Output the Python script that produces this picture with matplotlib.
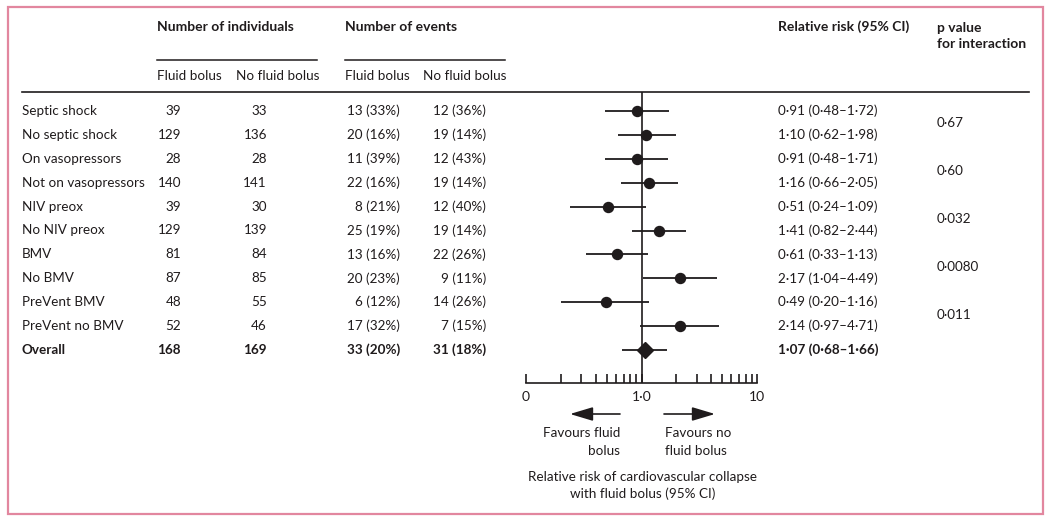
import matplotlib
matplotlib.use("Agg")
import matplotlib.pyplot as plt
from matplotlib.patches import Rectangle, FancyArrowPatch
from matplotlib.lines import Line2D
from matplotlib.ticker import FixedLocator, FixedFormatter, NullFormatter

# ---------------- data ----------------
subgroups = ["Septic shock", "No septic shock", "On vasopressors", "Not on vasopressors",
             "NIV preox", "No NIV preox", "BMV", "No BMV", "PreVent BMV", "PreVent no BMV",
             "Overall"]
n_fluid = [39, 129, 28, 140, 39, 129, 81, 87, 48, 52, 168]
n_nofluid = [33, 136, 28, 141, 30, 139, 84, 85, 55, 46, 169]
ev_fluid = [13, 20, 11, 22, 8, 25, 13, 20, 6, 17, 33]
pct_fluid = [33, 16, 39, 16, 21, 19, 16, 23, 12, 32, 20]
ev_nofluid = [12, 19, 12, 19, 12, 19, 22, 9, 14, 7, 31]
pct_nofluid = [36, 14, 43, 14, 40, 14, 26, 11, 26, 15, 18]
rr = [0.91, 1.10, 0.91, 1.16, 0.51, 1.41, 0.61, 2.17, 0.49, 2.14, 1.07]
ci_lo = [0.48, 0.62, 0.48, 0.66, 0.24, 0.82, 0.33, 1.04, 0.20, 0.97, 0.68]
ci_hi = [1.72, 1.98, 1.71, 2.05, 1.09, 2.44, 1.13, 4.49, 1.16, 4.71, 1.66]
p_interaction = ["0·67", "0·60", "0·032", "0·0080", "0·011"]
axis_ticks = [0.1, 1.0, 10.0]
axis_ticklabels = ["0", "1·0", "10"]

# ---------------- layout ----------------
W, H = 1050, 520
FONT = ["Lato", "DejaVu Sans"]
FS = 9.7
TXT = "#1f1b1c"
plt.rcParams["font.family"] = FONT

fig = plt.figure(figsize=(W / 100, H / 100), dpi=100)
fig.patch.set_facecolor("white")


def fx(x):
    return x / W


def fy(y):
    return 1 - y / H


def text(x, y, s, **kw):
    kw.setdefault("fontsize", FS)
    kw.setdefault("color", TXT)
    kw.setdefault("va", "center")
    fig.text(fx(x), fy(y), s, **kw)


def hline(x0, x1, y, lw=1.1, color=TXT):
    fig.add_artist(Line2D([fx(x0), fx(x1)], [fy(y), fy(y)], lw=lw, color=color,
                          transform=fig.transFigure))


def dot(v):
    return f"{v:.2f}".replace(".", "·")


# border
fig.add_artist(Rectangle((fx(8), fy(514)), fx(1043) - fx(8), fy(7) - fy(514),
                         transform=fig.transFigure, fill=False, lw=1.6,
                         edgecolor="#e2879f"))

# headers
text(157, 27, "Number of individuals", fontweight="bold", fontsize=FS + 0.3)
text(345, 27, "Number of events", fontweight="bold", fontsize=FS + 0.3)
hline(157, 317, 60)
hline(345, 505, 60)
text(157, 76, "Fluid bolus")
text(236, 76, "No fluid bolus")
text(345, 76, "Fluid bolus")
text(423, 76, "No fluid bolus")
text(778, 27, "Relative risk (95% CI)", fontweight="bold", fontsize=FS + 0.3)
text(937, 28, "p value", fontweight="bold", fontsize=FS + 0.3)
text(937, 44, "for interaction", fontweight="bold", fontsize=FS + 0.3)
hline(22, 1029, 92, lw=1.2)

row0, dy = 111, 23.9
nrows = len(subgroups)
for i in range(nrows):
    y = row0 + dy * i
    fw = "bold" if i == nrows - 1 else "normal"
    text(22, y, subgroups[i], fontweight=fw)
    text(181, y, str(n_fluid[i]), ha="right", fontweight=fw)
    text(267, y, str(n_nofluid[i]), ha="right", fontweight=fw)
    text(400, y, f"{ev_fluid[i]} ({pct_fluid[i]}%)", ha="right", fontweight=fw)
    text(486, y, f"{ev_nofluid[i]} ({pct_nofluid[i]}%)", ha="right", fontweight=fw)
    text(778, y, f"{dot(rr[i])} ({dot(ci_lo[i])}–{dot(ci_hi[i])})", fontweight=fw)

for k, p in enumerate(p_interaction):
    y = row0 + dy * (2 * k) + dy / 2 + 0.5
    text(937, y, p)

# forest axes
ax_top, ax_bot = 92, 383
ax = fig.add_axes([fx(526), fy(ax_bot), fx(757) - fx(526), (ax_bot - ax_top) / H])
ax.set_xscale("log")
ax.set_xlim(0.1, 10)
ax.set_ylim(-(ax_bot - row0) / dy, (row0 - ax_top) / dy)
ax.patch.set_alpha(0)
for s in ["top", "left", "right"]:
    ax.spines[s].set_visible(False)
ax.spines["bottom"].set_linewidth(1.2)
ax.spines["bottom"].set_color(TXT)
ax.set_yticks([])
ax.xaxis.set_major_locator(FixedLocator(axis_ticks))
ax.xaxis.set_major_formatter(FixedFormatter(axis_ticklabels))
minor = [m * 0.1 for m in range(2, 10)] + [float(m) for m in range(2, 10)]
ax.xaxis.set_minor_locator(FixedLocator(minor))
ax.xaxis.set_minor_formatter(NullFormatter())
ax.tick_params(axis="x", which="both", direction="in", length=6.5, width=1.2,
               color=TXT, labelsize=FS + 0.3, labelcolor=TXT, pad=6)
ax.axvline(1.0, color=TXT, lw=1.2, zorder=1)

ys = [-i for i in range(nrows)]
ax.hlines(ys, ci_lo, ci_hi, color=TXT, lw=1.3, zorder=2)
ax.plot(rr[:-1], ys[:-1], "o", ms=7.2, color=TXT, zorder=3)
ax.plot(rr[-1:], ys[-1:], "D", ms=8.5, color=TXT, zorder=3)

# arrows
for (x0, x1) in [(620, 570), (664, 715)]:
    fig.add_artist(FancyArrowPatch((fx(x0), fy(414)), (fx(x1), fy(414)),
                                   transform=fig.transFigure,
                                   arrowstyle="-|>,head_length=1.0,head_width=0.3",
                                   mutation_scale=14, lw=1.2, color=TXT,
                                   shrinkA=0, shrinkB=0))
text(620, 433, "Favours fluid", ha="right")
text(620, 451, "bolus", ha="right")
text(665, 433, "Favours no", ha="left")
text(665, 451, "fluid bolus", ha="left")
text(643, 477, "Relative risk of cardiovascular collapse", ha="center")
text(643, 494, "with fluid bolus (95% CI)", ha="center")

fig.savefig("out.png", dpi=100)
